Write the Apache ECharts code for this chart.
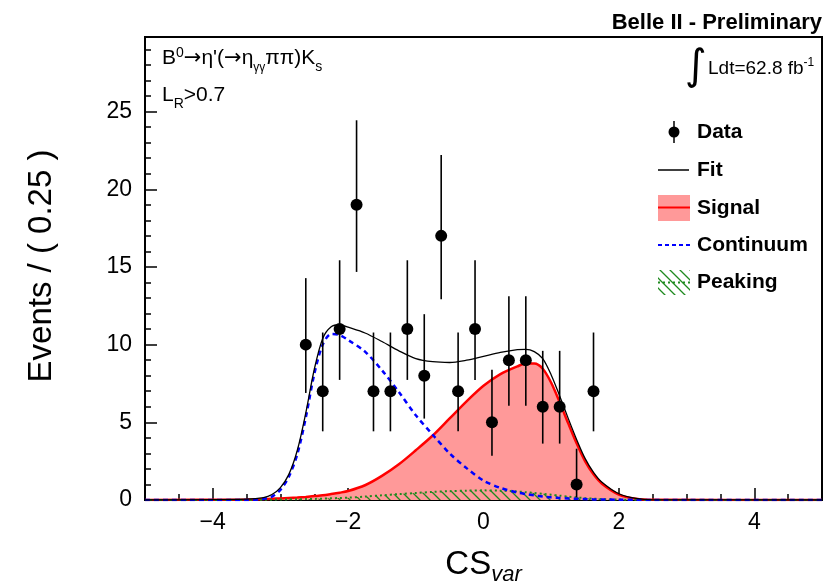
<!DOCTYPE html>
<html><head><meta charset="utf-8">
<script src="https://cdn.jsdelivr.net/npm/echarts@6/dist/echarts.min.js"></script>
<style>html,body{margin:0;padding:0;background:#fff}#c{width:826px;height:586px}</style>
</head><body><div id="c"></div>
<script>
// ---- data ----
const binCenters = [-2.625,-2.375,-2.125,-1.875,-1.625,-1.375,-1.125,-0.875,-0.625,-0.375,-0.125,0.125,0.375,0.625,0.875,1.125,1.375,1.625];
const counts     = [10,7,11,19,7,7,11,8,17,7,11,5,9,9,6,6,1,7];
const errLow     = [6.89,4.42,7.73,14.68,4.42,4.42,7.73,5.24,12.92,4.42,7.73,2.85,6.06,6.06,3.63,3.63,0.17,4.42];
const errHigh    = [14.28,10.78,15.43,24.44,10.78,10.78,15.43,11.96,22.21,10.78,15.43,8.38,13.12,13.12,9.6,9.6,3.3,10.78];

const curveX     = [-5,-3.5,-3.25,-3.125,-3,-2.875,-2.75,-2.625,-2.5,-2.375,-2.25,-2.125,-2,-1.75,-1.5,-1.25,-1,-0.75,-0.5,-0.25,0,0.25,0.5,0.625,0.75,0.875,1,1.125,1.25,1.375,1.5,1.625,1.75,2,2.25,2.5,5];
const fitY       = [0,0.05,0.15,0.35,0.8,1.65,3.2,5.6,8.4,10.4,11.15,11.28,11.12,10.75,10.2,9.6,9.1,8.9,8.85,9.0,9.25,9.5,9.68,9.7,9.55,9.1,8.05,6.7,5.27,3.9,2.68,1.78,1.14,0.4,0.1,0.01,0];
const signalY    = [0,0.03,0.06,0.08,0.1,0.13,0.16,0.2,0.25,0.3,0.38,0.47,0.58,0.95,1.55,2.3,3.2,4.15,5.25,6.35,7.35,8.1,8.6,8.78,8.78,8.45,7.55,6.3,4.95,3.65,2.5,1.65,1.05,0.35,0.08,0.01,0];
const continuumY = [0,0,0.07,0.22,0.65,1.5,2.95,5.3,8.1,10.0,10.68,10.62,10.3,9.55,8.35,6.95,5.45,4.2,3.0,2.05,1.25,0.78,0.48,0.38,0.3,0.23,0.17,0.13,0.1,0.08,0.06,0.04,0.03,0.02,0.01,0,0];
const peakingY   = [0,0,0.01,0.02,0.03,0.04,0.05,0.06,0.07,0.09,0.11,0.13,0.15,0.22,0.3,0.38,0.45,0.52,0.57,0.6,0.62,0.6,0.55,0.5,0.45,0.4,0.34,0.28,0.22,0.17,0.12,0.09,0.06,0.03,0.01,0,0];

const xTickLabels = [-4,-2,0,2,4];
const yTickLabels = [0,5,10,15,20,25];
const legendNames = ['Data','Fit','Signal','Continuum','Peaking'];

// ---- helpers ----
const FF = '"Liberation Sans", Arial, Helvetica, sans-serif';
const mctx = document.createElement('canvas').getContext('2d');
function fontOf(p){ const o=p[2]||{}; return (o.italic?'italic ':'')+(o.bold?'bold ':'')+p[1]+'px '+(o.family||FF); }
function richLine(x, base, parts, anchor){
  const w=[]; let total=0;
  parts.forEach(p=>{ mctx.font=fontOf(p); const ww=mctx.measureText(p[0]).width; w.push(ww); total+=ww; });
  let cx = anchor==='right' ? x-total : (anchor==='center' ? x-total/2 : x);
  return parts.map((p,i)=>{
    const o=p[2]||{};
    const el={type:'text', silent:true, style:{text:p[0], x:cx, y:base+(o.shift||0)-0.31*p[1], font:fontOf(p), fill:'#000',
      align:'left', verticalAlign:'middle', textAlign:'left', textVerticalAlign:'middle'}};
    cx+=w[i]; return el;
  });
}
function hatchCanvas(){
  const c=document.createElement('canvas'); c.width=10; c.height=10;
  const g=c.getContext('2d'); g.strokeStyle='#1f8a1f'; g.lineWidth=1.3;
  g.beginPath(); g.moveTo(-1,-1); g.lineTo(11,11); g.moveTo(-6,4); g.lineTo(6,16); g.moveTo(4,-6); g.lineTo(16,6); g.stroke();
  return c;
}
const hatch = hatchCanvas();
const zip = (xs, ys) => xs.map((x,i)=>[x, ys[i]]);
const minus = v => String(v).replace('-', '\u2212');

const chart = echarts.init(document.getElementById('c'), null, {renderer:'canvas'});

const axisFont = {fontFamily: FF, fontSize: 23, color: '#000'};
const DJ = '"DejaVu Sans", sans-serif';

const graphics = [].concat(
  richLine(822, 30, [['Belle II - Preliminary', 22, {bold:true}]], 'right'),
  richLine(162, 65, [['B',21],['0',14,{shift:-8}],['\u2192',21,{family:DJ}],['\u03b7\'(',21],['\u2192',21,{family:DJ}],['\u03b7',21],['\u03b3\u03b3',12,{shift:6}],['\u03c0\u03c0)K',21],['s',14,{shift:6}]]),
  richLine(162, 102, [['L',21],['R',14,{shift:6}],['>0.7',21]]),
  richLine(708, 75, [['Ldt=62.8 fb',19],['-1',12,{shift:-9}]]),
  [{type:'text', silent:true, style:{text:'\u222b', x:696, y:68, font:'42px "DejaVu Sans"', fill:'#000', align:'center', verticalAlign:'middle', textAlign:'center', textVerticalAlign:'middle'}}],
  // y title
  [{type:'text', silent:true, rotation: Math.PI/2, x:42, y:266, style:{text:'Events / ( 0.25 )', x:0, y:0, font:'33px '+FF, fill:'#000', align:'center', verticalAlign:'middle', textAlign:'center', textVerticalAlign:'middle'}}],
  // x title
  richLine(483.5, 575, [['CS',33],['var',22,{italic:true,shift:7}]], 'center'),
  // legend symbols
  [
    {type:'line', silent:true, shape:{x1:674,y1:121,x2:674,y2:143}, style:{stroke:'#000', lineWidth:1.5}},
    {type:'circle', silent:true, shape:{cx:674,cy:132,r:5.5}, style:{fill:'#000'}},
    {type:'line', silent:true, shape:{x1:658,y1:170,x2:689,y2:170}, style:{stroke:'#000', lineWidth:1.5}},
    {type:'rect', silent:true, shape:{x:658,y:195,width:32,height:26}, style:{fill:'#ff9999'}},
    {type:'line', silent:true, shape:{x1:658,y1:207.5,x2:690,y2:207.5}, style:{stroke:'#ff0000', lineWidth:2}},
    {type:'line', silent:true, shape:{x1:658,y1:245,x2:690,y2:245}, style:{stroke:'#0000ff', lineWidth:2, lineDash:[4,3]}},
    {type:'rect', silent:true, shape:{x:658,y:270,width:32,height:25}, style:{fill:{image:hatch, repeat:'repeat'}}},
    {type:'line', silent:true, shape:{x1:658,y1:282.5,x2:690,y2:282.5}, style:{stroke:'#1f8a1f', lineWidth:2, lineDash:[2,3]}}
  ],
  legendNames.map((n,i)=>({type:'text', silent:true, style:{text:n, x:697, y:[132,170,208,245,282][i], font:'bold 21px '+FF, fill:'#000', align:'left', verticalAlign:'middle', textAlign:'left', textVerticalAlign:'middle'}}))
);

chart.setOption({
  animation:false,
  backgroundColor:'#fff',
  grid:{left:145, top:37, width:677, height:463, show:true, borderColor:'#000', borderWidth:2, backgroundColor:'transparent', outerBoundsMode:'none', containLabel:false},
  xAxis:[
    {type:'value', min:-5, max:5, interval:0.5, position:'bottom',
     axisLine:{show:true, onZero:false, lineStyle:{color:'#000', width:2}},
     axisTick:{show:true, inside:true, length:6, lineStyle:{color:'#000', width:1.5}},
     axisLabel:{show:true, margin:11, customValues:xTickLabels, formatter:minus, ...axisFont},
     splitLine:{show:false}},
    {type:'value', min:-5, max:5, interval:0.5, position:'bottom',
     axisLine:{show:false, onZero:false}, axisLabel:{show:false}, splitLine:{show:false},
     axisTick:{show:true, inside:true, length:12, customValues:xTickLabels, lineStyle:{color:'#000', width:1.5}}}
  ],
  yAxis:[
    {type:'value', min:0, max:29.8, interval:1, position:'left',
     axisLine:{show:true, onZero:false, lineStyle:{color:'#000', width:2}},
     axisTick:{show:true, inside:true, length:6, lineStyle:{color:'#000', width:1.5}},
     axisLabel:{show:true, margin:13, customValues:yTickLabels, ...axisFont},
     splitLine:{show:false}},
    {type:'value', min:0, max:29.8, interval:1, position:'left', offset:0,
     axisLine:{show:false, onZero:false}, axisLabel:{show:false}, splitLine:{show:false},
     axisTick:{show:true, inside:true, length:12, customValues:yTickLabels, lineStyle:{color:'#000', width:1.5}}}
  ],
  series:[
    {name:'Signal', type:'line', data:zip(curveX, signalY), smooth:0.3, showSymbol:false, z:2,
     lineStyle:{color:'#ff0000', width:2.5}, areaStyle:{color:'#ff9999', opacity:1}},
    {name:'Peaking', type:'line', data:zip(curveX, peakingY), smooth:0.3, showSymbol:false, z:3,
     lineStyle:{color:'#1f8a1f', width:2, type:[2,3]}, areaStyle:{color:{image:hatch, repeat:'repeat'}, opacity:1}},
    {name:'Continuum', type:'line', data:zip(curveX, continuumY), smooth:0.3, showSymbol:false, z:4,
     lineStyle:{color:'#0000ff', width:2.5, type:[5,4]}},
    {name:'Fit', type:'line', data:zip(curveX, fitY), smooth:0.3, showSymbol:false, z:5,
     lineStyle:{color:'#000', width:1.3}},
    {name:'DataErr', type:'custom', z:6, data:binCenters.map((x,i)=>[x, errLow[i], errHigh[i]]),
     encode:{x:0, y:[1,2]},
     renderItem:function(params, api){
       const x=api.value(0); const p1=api.coord([x, api.value(1)]); const p2=api.coord([x, api.value(2)]);
       return {type:'line', shape:{x1:p1[0],y1:p1[1],x2:p2[0],y2:p2[1]}, style:{stroke:'#000', lineWidth:1.6}};
     }},
    {name:'Data', type:'scatter', z:7, data:zip(binCenters, counts), symbol:'circle', symbolSize:12,
     itemStyle:{color:'#000', opacity:1}}
  ],
  graphic:graphics
});
</script>
</body></html>
